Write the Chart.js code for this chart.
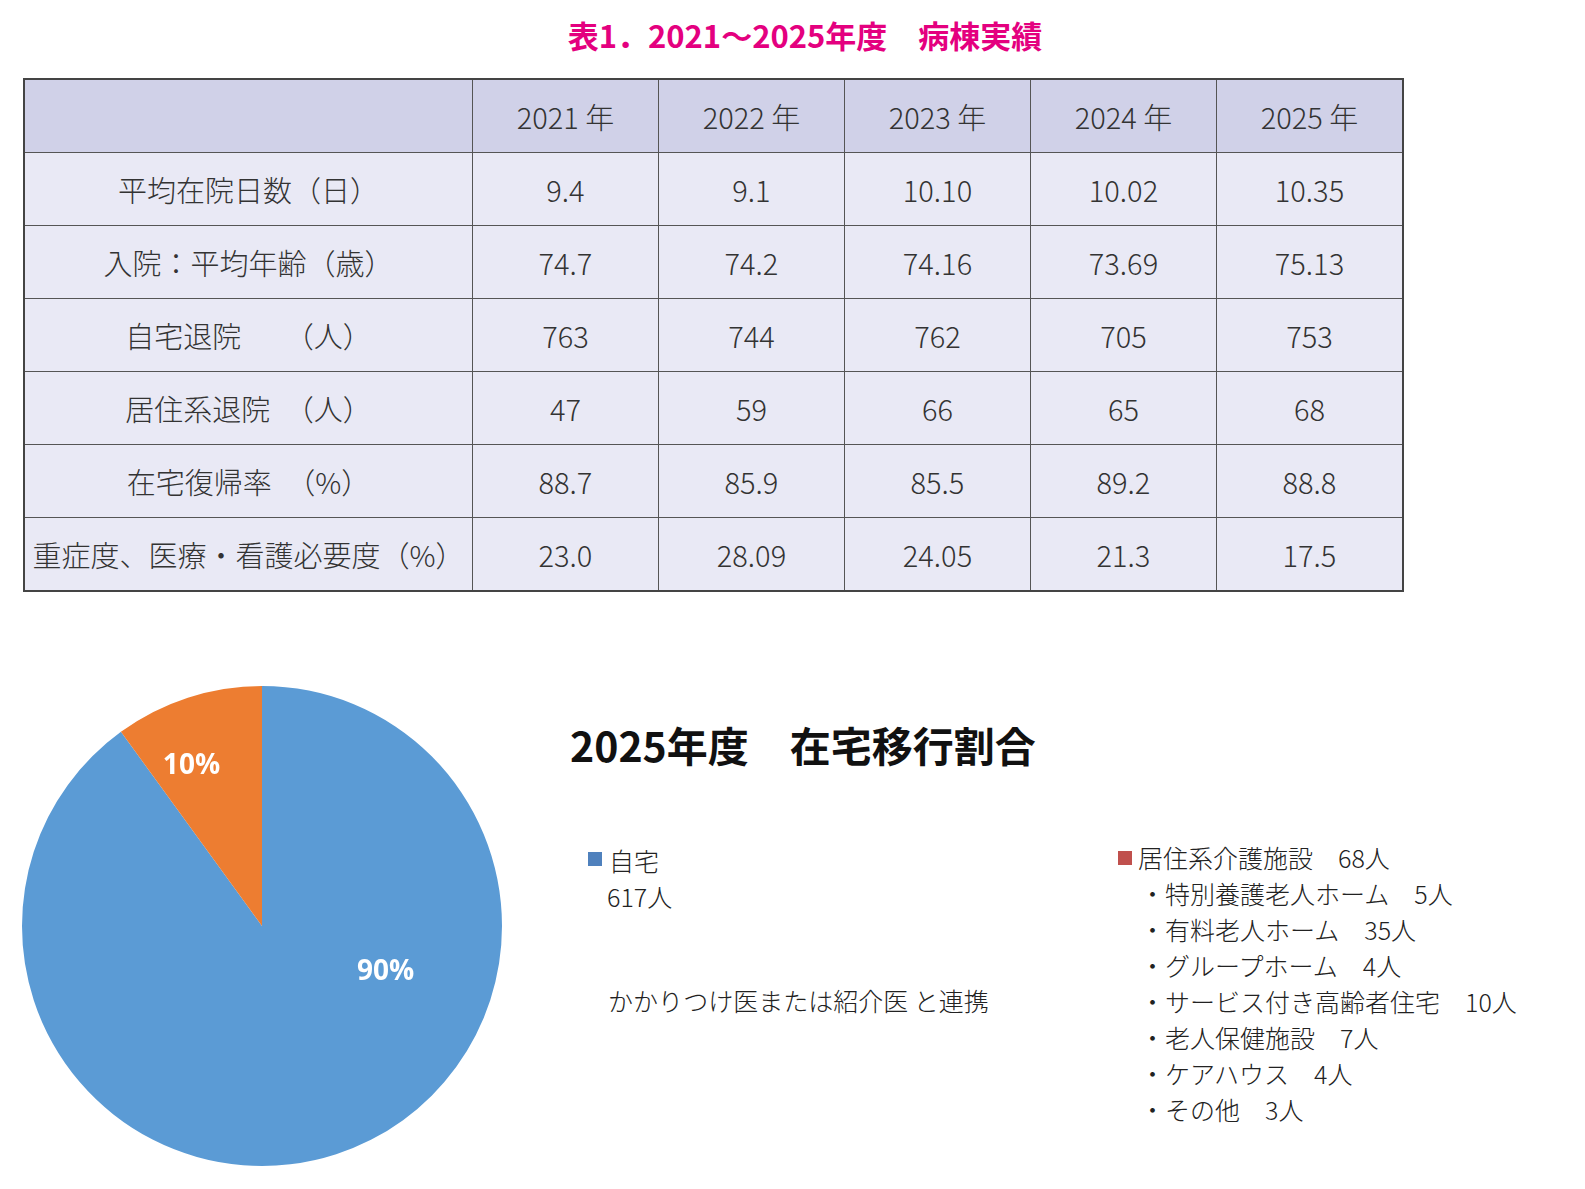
<!DOCTYPE html>
<html><head><meta charset="utf-8">
<script src="https://cdn.jsdelivr.net/npm/chart.js@4"></script>
<style>
body{margin:0;width:1585px;height:1189px;background:#fff;position:relative;font-family:"Noto Sans CJK JP",sans-serif;color:#333;overflow:hidden}
.abs{position:absolute;white-space:nowrap}
#title{left:0;width:1610px;top:12px;text-align:center;color:#e4007f;font-weight:bold;font-size:31px}
table{position:absolute;left:23px;top:78px;border-collapse:collapse;border:2px solid #444}
td{border:1px solid #555;height:72px;text-align:center;font-size:29px;background:#e9e9f5;padding:0;color:#333;font-weight:300}
tr:first-child td{background:#d0d1e8;height:72px}
td.c0{width:447px}td.cn{width:185px}
.serif{font-family:"Noto Sans CJK JP",serif;font-size:25px;color:#222;font-weight:300}
</style></head><body>
<div id="title" class="abs">表1．2021～2025年度　病棟実績</div>
<table id="tbl"></table>
<div style="position:absolute;left:20px;top:684px;width:484px;height:484px"><canvas id="c"></canvas></div>
<div class="abs" style="left:570px;top:714px;font-size:41px;font-weight:bold;color:#111">2025年度　在宅移行割合</div>
<div class="abs" style="left:588px;top:852px;width:14px;height:14px;background:#4f81bd"></div>
<div class="abs serif" style="left:609px;top:842px">自宅</div>
<div class="abs serif" style="left:607px;top:878px">617人</div>
<div class="abs serif" style="left:608px;top:982px">かかりつけ医または紹介医 と連携</div>
<div class="abs" style="left:1118px;top:851px;width:14px;height:14px;background:#c0504d"></div>
<div id="fac"></div>
<script>
const years=["2021 年","2022 年","2023 年","2024 年","2025 年"];
const rowLabels=["平均在院日数（日）","入院：平均年齢（歳）","自宅退院　　（人）","居住系退院　（人）","在宅復帰率　（%）","重症度、医療・看護必要度（%）"];
const rowValues=[["9.4","9.1","10.10","10.02","10.35"],["74.7","74.2","74.16","73.69","75.13"],["763","744","762","705","753"],["47","59","66","65","68"],["88.7","85.9","85.5","89.2","88.8"],["23.0","28.09","24.05","21.3","17.5"]];
const pieLabels=["自宅","居住系介護施設"];
const pieValues=[90,10];
const pieText=["90%","10%"];
const facHead="居住系介護施設　68人";
const facItems=["・特別養護老人ホーム　5人","・有料老人ホーム　35人","・グループホーム　4人","・サービス付き高齢者住宅　10人","・老人保健施設　7人","・ケアハウス　4人","・その他　3人"];

let h='<tr><td class="c0"></td>'+years.map(y=>'<td class="cn">'+y+'</td>').join('')+'</tr>';
rowLabels.forEach((l,i)=>{h+='<tr><td class="c0">'+l+'</td>'+rowValues[i].map(v=>'<td class="cn">'+v+'</td>').join('')+'</tr>';});
document.getElementById('tbl').innerHTML=h;
let f='<div class="abs serif" style="left:1138px;top:839px">'+facHead+'</div>';
facItems.forEach((t,i)=>{f+='<div class="abs serif" style="left:1140px;top:'+(875+i*36)+'px">'+t+'</div>';});
document.getElementById('fac').innerHTML=f;

const lblPlug={id:'lbl',afterDraw(ch){const c=ch.ctx;const m=ch.getDatasetMeta(0);
 const adj=[{da:-0.9,f:0.55},{da:-0.1,f:0.73}];
 m.data.forEach((a,i)=>{const mid=(a.startAngle+a.endAngle)/2+adj[i].da;const r=a.outerRadius*adj[i].f;
  c.save();c.fillStyle='#fff';c.font='bold 28px "Open Sans", sans-serif';c.textAlign='center';c.textBaseline='middle';
  c.fillText(pieText[i],a.x+Math.cos(mid)*r,a.y+Math.sin(mid)*r);c.restore();});}};
new Chart(document.getElementById('c'),{type:'pie',data:{labels:pieLabels,datasets:[{data:pieValues,backgroundColor:['#5b9bd5','#ed7d31'],borderWidth:0}]},
options:{responsive:true,maintainAspectRatio:false,animation:false,layout:{padding:2},plugins:{legend:{display:false},tooltip:{enabled:false}}},plugins:[lblPlug]});
</script></body></html>
